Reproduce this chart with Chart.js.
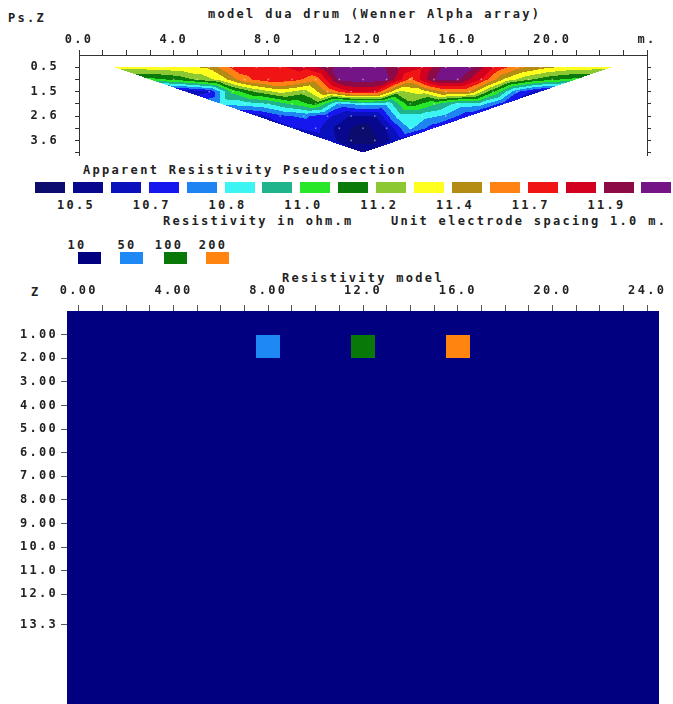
<!DOCTYPE html>
<html>
<head>
<meta charset="utf-8">
<script src="https://cdn.jsdelivr.net/npm/chart.js@4.4.1/dist/chart.umd.min.js"></script>
<style>
  html, body { margin: 0; padding: 0; background: #fff; }
  body { width: 673px; height: 704px; position: relative; overflow: hidden;
         font: bold 12px "DejaVu Sans Mono", monospace; color: #222; letter-spacing: 2.3px; }
  .t { position: absolute; white-space: nowrap; line-height: 14px; }
  .c { transform: translateX(-50%); }
  .box { position: absolute; }
  #pseudo { position: absolute; left: 0; top: 0; }
  #model { position: absolute; left: 0; top: 280px; }
</style>
</head>
<body>
<div class="t" style="left:8px;top:11px">Ps.Z</div>
<div class="t" style="left:208px;top:7px">model dua drum (Wenner Alpha array)</div>
<div class="t" style="left:83px;top:163px">Apparent Resistivity Pseudosection</div>
<div class="t" style="left:163px;top:214px">Resistivity in ohm.m</div>
<div class="t" style="left:391px;top:214px">Unit electrode spacing 1.0 m.</div>
<div class="t" style="left:282px;top:271px">Resistivity model</div>
<div class="t" style="left:31px;top:285px">Z</div>
<div id="legends"></div>
<canvas id="pseudo" width="673" height="160"></canvas>
<canvas id="model" width="673" height="424"></canvas>
<script>
'use strict'
{
  // pseudosection data (Wenner alpha, a = 1..8)
  const electrodeSpacing = 1.0;
  const levelDepths = [0.52, 1.04, 1.56, 2.08, 2.60, 3.12, 3.64, 4.16];
  const levelStartX = [1.5, 3.0, 4.5, 6.0, 7.5, 9.0, 10.5, 12.0];
  const rhoLevel1 = [11.42, 11.43, 11.44, 11.46, 11.50, 11.72, 11.76, 11.78, 11.82, 11.98, 12.06, 12.06, 11.92, 11.80, 12.04, 12.04, 11.80, 11.62, 11.52, 11.46, 11.44, 11.42];
  const rhoLevel2 = [11.15, 11.20, 11.30, 11.42, 11.66, 11.76, 11.74, 11.62, 12.02, 12.06, 12.02, 11.66, 12.00, 12.02, 11.78, 11.46, 11.30, 11.20, 11.15];
  const rhoLevel3 = [10.60, 10.68, 11.12, 11.30, 11.42, 11.33, 11.60, 11.80, 11.80, 11.36, 11.42, 11.62, 11.58, 11.20, 10.80, 10.62];
  const rhoLevel4 = [10.90, 10.93, 10.98, 11.10, 11.22, 10.85, 10.92, 10.90, 11.25, 11.10, 10.95, 10.92, 10.72];
  const rhoLevel5 = [10.65, 10.76, 10.80, 10.72, 10.58, 10.58, 10.93, 10.93, 10.86, 10.70];
  const rhoLevel6 = [10.68, 10.72, 10.55, 10.45, 10.60, 10.90, 10.72];
  const rhoLevel7 = [10.65, 10.48, 10.48, 10.65];
  const rhoLevel8 = [10.55];
  const pseudoLevels = [rhoLevel1, rhoLevel2, rhoLevel3, rhoLevel4, rhoLevel5, rhoLevel6, rhoLevel7, rhoLevel8];

  const contourLevels = [10.5, 10.59, 10.69, 10.78, 10.88, 10.98, 11.08, 11.18, 11.28, 11.38, 11.48, 11.58, 11.69, 11.79, 11.9, 12.0];
  const contourColors = ['#0c0c6e', '#08088e', '#0a10bc', '#1616ee', '#1e84f2', '#3cf4f4', '#20b48c', '#28e628',
    '#0a7a0a', '#8cc832', '#ffff1e', '#b48c14', '#ff8214', '#f01414', '#d2001e', '#8c0a46', '#741486'];
  const contourLabels = ['10.5', '10.7', '10.8', '11.0', '11.2', '11.4', '11.7', '11.9'];

  const pseudoXLabels = ['0.0', '4.0', '8.0', '12.0', '16.0', '20.0', 'm.'];
  const pseudoYLabels = ['0.5', '', '1.5', '', '2.6', '', '3.6', ''];

  // resistivity model
  const modelLegendValues = [10, 50, 100, 200];
  const modelLegendColors = ['#000080', '#1e88f4', '#087808', '#ff8410'];
  const blockLeft = [-0.5, 7.5, 11.5, 15.5];
  const blockRight = [24.5, 8.5, 12.5, 16.5];
  const blockTop = [0, 1, 1, 1];
  const blockBottom = [16.65, 2, 2, 2];
  const blockRho = [10, 50, 100, 200];

  const modelXLabels = ['0.00', '4.00', '8.00', '12.0', '16.0', '20.0', '24.0'];
  const modelYTicks = [1, 2, 3, 4, 5, 6, 7, 8, 9, 10, 11, 12, 13.3];
  const modelYLabels = ['1.00', '2.00', '3.00', '4.00', '5.00', '6.00', '7.00', '8.00', '9.00', '10.0', '11.0', '12.0', '13.3'];

  // legends (html)
  const legends = document.getElementById('legends');
  const addDiv = (cls, style, text) => {
    const d = document.createElement('div');
    d.className = cls;
    Object.assign(d.style, style);
    if (text) d.textContent = text;
    legends.appendChild(d);
  };
  contourColors.forEach((c, k) => {
    addDiv('box', { left: (35 + k * 37.9) + 'px', top: '182px', width: '30px', height: '11px', background: c });
  });
  contourLabels.forEach((s, m) => {
    addDiv('t c', { left: (76 + m * 75.8) + 'px', top: '198px' }, s);
  });
  const modelLegendX = [78, 120, 164, 206];
  const modelLabelX = [77, 127, 169, 213];
  modelLegendValues.forEach((v, i) => {
    addDiv('t c', { left: modelLabelX[i] + 'px', top: '238px' }, String(v));
    addDiv('box', { left: modelLegendX[i] + 'px', top: '252px', width: '23px', height: '12px', background: modelLegendColors[i] });
  });

  const font = { family: 'DejaVu Sans Mono', size: 12, weight: 'bold' };
  const ink = '#222';
  const line = '#333';
  const near = (a, b) => Math.abs(a - b) < 1e-6;
  const hexToRgb = h => [1, 3, 5].map(i => parseInt(h.slice(i, i + 2), 16));
  const bandOf = v => contourLevels.filter(c => v >= c).length;
  const noPad = s => { s.paddingTop = 0; s.paddingBottom = 0; s.paddingLeft = 0; s.paddingRight = 0; };

  // filled contours: triangulate the staggered data levels, interpolate inside each triangle
  const pseudoFill = {
    id: 'pseudoFill',
    beforeDatasetsDraw(chart) {
      const { ctx, chartArea: ca, scales: { x, y } } = chart;
      const x0 = Math.floor(ca.left), y0 = Math.floor(ca.top);
      const w = Math.ceil(ca.right) - x0, h = Math.ceil(ca.bottom) - y0;
      const img = ctx.getImageData(x0, y0, w, h);
      const rgb = contourColors.map(hexToRgb);
      const pts = pseudoLevels.map((vals, n) => vals.map((v, i) => ({
        px: x.getPixelForValue(levelStartX[n] + i * electrodeSpacing) - x0,
        py: y.getPixelForValue(levelDepths[n]) - y0,
        v: v,
      })));
      const tris = [];
      for (let n = 0; n < pts.length - 1; n++) {
        const a = pts[n], b = pts[n + 1], M = b.length;
        tris.push([a[0], a[1], b[0]]);
        for (let j = 0; j < M; j++) tris.push([a[j + 1], a[j + 2], b[j]]);
        for (let j = 0; j < M - 1; j++) tris.push([b[j], b[j + 1], a[j + 2]]);
        tris.push([a[M + 1], a[M + 2], b[M - 1]]);
      }
      tris.forEach(([p, q, r]) => {
        const det = (q.py - r.py) * (p.px - r.px) + (r.px - q.px) * (p.py - r.py);
        const minX = Math.max(0, Math.floor(Math.min(p.px, q.px, r.px)));
        const maxX = Math.min(w - 1, Math.ceil(Math.max(p.px, q.px, r.px)));
        const minY = Math.max(0, Math.floor(Math.min(p.py, q.py, r.py)));
        const maxY = Math.min(h - 1, Math.ceil(Math.max(p.py, q.py, r.py)));
        for (let py = minY; py <= maxY; py++) {
          for (let px = minX; px <= maxX; px++) {
            const cx = px + 0.5, cy = py + 0.5;
            const l1 = ((q.py - r.py) * (cx - r.px) + (r.px - q.px) * (cy - r.py)) / det;
            const l2 = ((r.py - p.py) * (cx - r.px) + (p.px - r.px) * (cy - r.py)) / det;
            const l3 = 1 - l1 - l2;
            if (l1 < -1e-4 || l2 < -1e-4 || l3 < -1e-4) continue;
            const c = rgb[bandOf(l1 * p.v + l2 * q.v + l3 * r.v)];
            const k = (py * w + px) * 4;
            img.data[k] = c[0]; img.data[k + 1] = c[1]; img.data[k + 2] = c[2]; img.data[k + 3] = 255;
          }
        }
      });
      ctx.putImageData(img, x0, y0);
    },
  };

  const pseudoPoints = [];
  pseudoLevels.forEach((vals, n) => vals.forEach((v, i) => {
    pseudoPoints.push({ x: levelStartX[n] + i * electrodeSpacing, y: levelDepths[n] });
  }));

  const integerTicks = (from, to) => s => {
    s.ticks = [];
    for (let v = from; v <= to; v++) s.ticks.push({ value: v });
  };

  new Chart(document.getElementById('pseudo'), {
    type: 'scatter',
    data: {
      datasets: [{
        data: pseudoPoints,
        pointRadius: 0.9,
        pointBorderWidth: 0,
        pointBackgroundColor: 'rgba(255,255,255,0.45)',
      }],
    },
    options: {
      responsive: false,
      animation: false,
      layout: { padding: { left: 0, right: 0, top: 0, bottom: 5 } },
      plugins: { legend: { display: false }, tooltip: { enabled: false } },
      scales: {
        x: {
          type: 'linear', position: 'top', min: 0, max: 24,
          afterBuildTicks: integerTicks(0, 24),
          afterFit: s => { s.height = 55; noPad(s); },
          ticks: {
            font: font, color: ink, padding: 3, maxRotation: 0, autoSkip: false,
            callback: v => (near(v % 4, 0) ? pseudoXLabels[Math.round(v / 4)] : ''),
          },
          grid: { drawOnChartArea: false, tickLength: 5, color: line },
          border: { color: line },
        },
        y: {
          type: 'linear', reverse: true, min: 0, max: 4.26,
          afterBuildTicks: s => { s.ticks = levelDepths.map(v => ({ value: v })); },
          afterFit: s => { s.width = 79; noPad(s); },
          ticks: {
            font: font, color: ink, padding: 16, autoSkip: false,
            callback: (v, i) => pseudoYLabels[i],
          },
          grid: { drawOnChartArea: false, tickLength: 4, color: line },
          border: { color: line },
        },
        y2: {
          type: 'linear', position: 'right', reverse: true, min: 0, max: 4.26,
          afterBuildTicks: s => { s.ticks = levelDepths.map(v => ({ value: v })); },
          afterFit: s => { s.width = 26; noPad(s); },
          ticks: { display: false },
          grid: { drawOnChartArea: false, tickLength: 4, color: line },
          border: { color: line },
        },
      },
    },
    plugins: [pseudoFill],
  });

  const modelCells = {
    id: 'modelCells',
    beforeDatasetsDraw(chart) {
      const { ctx, chartArea: ca, scales: { x, y } } = chart;
      ctx.save();
      ctx.beginPath();
      ctx.rect(ca.left, ca.top, ca.width, ca.height);
      ctx.clip();
      blockRho.forEach((rho, i) => {
        const l = Math.round(x.getPixelForValue(blockLeft[i]));
        const r = Math.round(x.getPixelForValue(blockRight[i]));
        const t = Math.round(y.getPixelForValue(blockTop[i]));
        const b = Math.round(y.getPixelForValue(blockBottom[i]));
        ctx.fillStyle = modelLegendColors[modelLegendValues.indexOf(rho)];
        ctx.fillRect(l, t, r - l, b - t);
      });
      ctx.restore();
    },
  };

  new Chart(document.getElementById('model'), {
    type: 'scatter',
    data: { datasets: [] },
    options: {
      responsive: false,
      animation: false,
      layout: { padding: { left: 0, right: 14, top: 0, bottom: 0 } },
      plugins: { legend: { display: false }, tooltip: { enabled: false } },
      scales: {
        x: {
          type: 'linear', position: 'top', min: -0.5, max: 24.5,
          afterBuildTicks: integerTicks(0, 24),
          afterFit: s => { s.height = 31; noPad(s); },
          ticks: {
            font: font, color: ink, padding: 7, maxRotation: 0, autoSkip: false,
            callback: v => (near(v % 4, 0) ? modelXLabels[Math.round(v / 4)] : ''),
          },
          grid: { drawOnChartArea: false, tickLength: 6, color: '#555' },
          border: { display: false },
        },
        y: {
          type: 'linear', reverse: true, min: 0, max: 16.65,
          afterBuildTicks: s => { s.ticks = modelYTicks.map(v => ({ value: v })); },
          afterFit: s => { s.width = 67; noPad(s); },
          ticks: {
            font: font, color: ink, padding: 3, autoSkip: false,
            callback: (v, i) => modelYLabels[i],
          },
          grid: { drawOnChartArea: false, tickLength: 6, color: '#555' },
          border: { display: false },
        },
      },
    },
    plugins: [modelCells],
  });
}
</script>
</body>
</html>
